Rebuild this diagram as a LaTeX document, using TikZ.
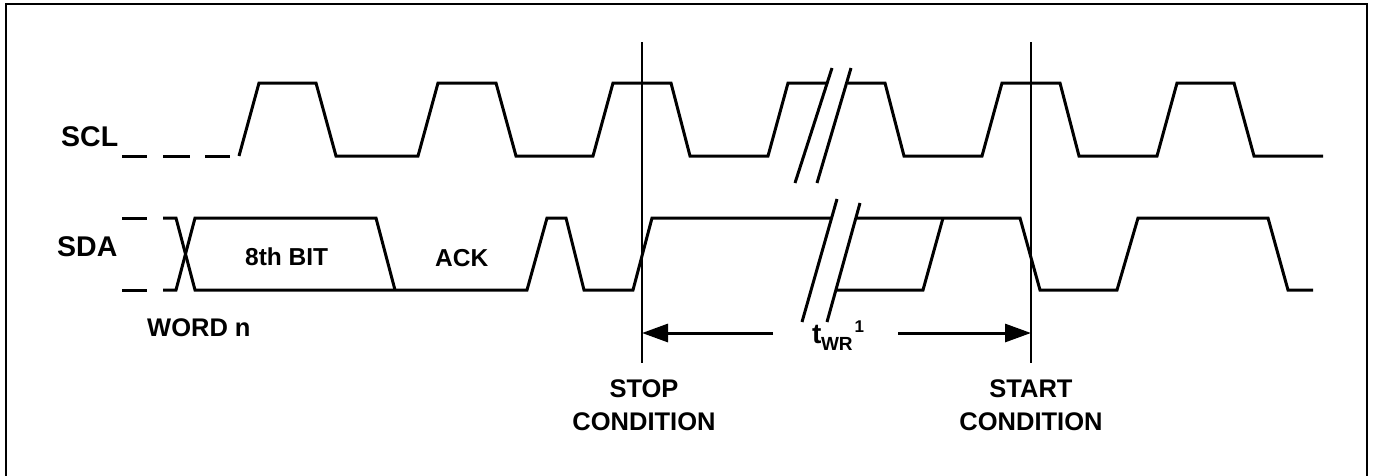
\documentclass[tikz,border=0pt]{standalone}
\usepackage{fontspec}
\setmainfont{Liberation Sans}
\usetikzlibrary{arrows.meta}
\begin{document}
\begin{tikzpicture}[x=1pt,y=-1pt,
  sig/.style={line width=3pt, line join=miter},
  brk/.style={line width=3pt},
  vline/.style={line width=2pt},
  dim/.style={line width=3pt, -{Triangle[length=26pt,width=18pt]}},
  lbl/.style={font=\fontsize{28.5}{30}\selectfont\bfseries, inner sep=0pt},
  txt/.style={font=\fontsize{25.5}{33}\selectfont\bfseries, inner sep=0pt, align=center},
  small/.style={font=\fontsize{24.5}{28}\selectfont\bfseries, inner sep=0pt}]
\useasboundingbox (0,0) rectangle (1373,475);
\draw[line width=2pt] (6,4) rectangle (1367,480);
% labels
\node[lbl, anchor=base west] (scl) at (61,146) {SCL};
\node[lbl, anchor=base west] (sda) at (57,256) {SDA};
\node[small, anchor=base west] (bit) at (245,265) {8th BIT};
\node[small, anchor=base west] (ack) at (435,266) {ACK};
\node[txt, anchor=base west] (word) at (147,336) {WORD n};
\node[txt, anchor=base] (stop) at (644,430) {STOP\\CONDITION};
\node[txt, anchor=base] (start) at (1031,430) {START\\CONDITION};
% SCL
\draw[sig] (122,156)--(147,156) (163,156)--(190,156) (205,156)--(230,156);
\draw[sig] (239,156)--(259,83)--(316,83)--(336,156)--(418,156)--(438,83)--(496,83)--(516,156)--(593,156)--(613,83)--(671,83)--(690,156)--(768,156)--(788,83)--(827,83);
\draw[sig] (848,83)--(885,83)--(904,156)--(982,156)--(1002,83)--(1060,83)--(1079,156)--(1157,156)--(1177,83)--(1234,83)--(1254,156)--(1323,156);
\draw[brk] (832,68)--(795,183) (851,68)--(817,183);
% SDA
\draw[sig] (122,218)--(147,218) (122,290)--(147,290);
\draw[sig] (163,218)--(176,218)--(195,290)--(527,290)--(547,218)--(566,218)--(584,290)--(633,290)--(652,218)--(832,218);
\draw[sig] (163,290)--(176,290)--(195,218)--(376,218)--(395,290);
\draw[sig] (856,218)--(1020,218)--(1040,290)--(1117,290)--(1138,218)--(1268,218)--(1288,290)--(1313,290);
\draw[sig] (835,290)--(923,290)--(943,218);
\draw[brk] (837,199)--(802,322) (860,203)--(827,322);
% condition lines
\coordinate (stoptop) at (642,42);
\coordinate (stopbot) at (642,363);
\coordinate (starttop) at (1031,42);
\coordinate (startbot) at (1031,363);
\draw[vline] (stoptop)--(stopbot);
\draw[vline] (starttop)--(startbot);
% twr
\coordinate (la) at (773,333);
\coordinate (ra) at (898,333);
\coordinate (sl) at (642,333);
\coordinate (sr) at (1031,333);
\draw[dim] (la)--(sl);
\draw[dim] (ra)--(sr);
\node[inner sep=0pt, anchor=base west, font=\fontsize{28}{30}\selectfont\bfseries] (twr) at (812,343)
  {t\kern-0.5pt\raisebox{-7pt}{\fontsize{19}{19}\selectfont WR}\kern2pt\raisebox{11pt}{\fontsize{17}{17}\selectfont 1}};
\end{tikzpicture}
\end{document}
